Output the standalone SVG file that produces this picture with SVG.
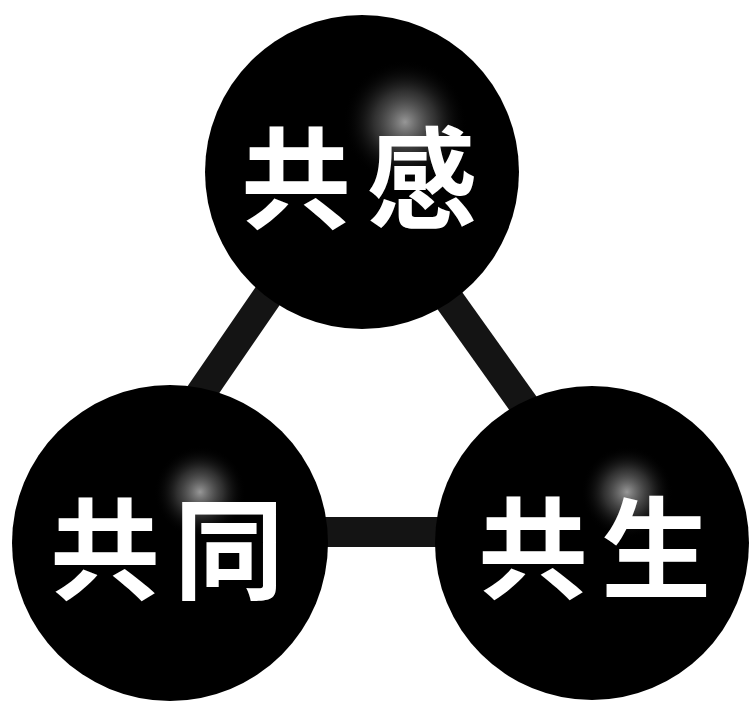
<svg xmlns="http://www.w3.org/2000/svg" width="750" height="705" viewBox="0 0 750 705">
  <defs>
    <radialGradient id="hl" cx="0.5" cy="0.5" r="0.5">
      <stop offset="0" stop-color="#a8a8a8" stop-opacity="0.9"/>
      <stop offset="0.5" stop-color="#606060" stop-opacity="0.5"/>
      <stop offset="1" stop-color="#000000" stop-opacity="0"/>
    </radialGradient>
  </defs>
  <style>
    .ball { fill: #000000; }
    .conn { stroke: #141414; stroke-width: 30; stroke-linecap: butt; fill: none; }
    .lbl { fill: #ffffff; font-family: "Noto Sans CJK JP", "Noto Sans CJK SC", sans-serif; font-weight: 700; font-size: 110px; text-anchor: middle; dominant-baseline: central; }
  </style>
  <rect x="0" y="0" width="750" height="705" fill="#ffffff"/>
  <g id="connectors">
    <line class="conn" x1="151" y1="466" x2="322" y2="217"/>
    <line class="conn" x1="403" y1="235" x2="574" y2="475"/>
    <line class="conn" x1="250" y1="532" x2="510" y2="532"/>
  </g>
  <g id="node-kyokan">
    <circle class="ball" cx="362" cy="172" r="157"/>
    <circle cx="405" cy="122" r="62" fill="url(#hl)"/>
    <text class="lbl" x="296" y="172">共</text>
    <text class="lbl" x="422" y="172">感</text>
  </g>
  <g id="node-kyodo">
    <circle class="ball" cx="170" cy="543" r="158"/>
    <circle cx="200" cy="492" r="46" fill="url(#hl)"/>
    <text class="lbl" x="105" y="543">共</text>
    <text class="lbl" x="229" y="543">同</text>
  </g>
  <g id="node-kyosei">
    <circle class="ball" cx="592" cy="543" r="157"/>
    <circle cx="627" cy="492" r="46" fill="url(#hl)"/>
    <text class="lbl" x="533" y="542">共</text>
    <text class="lbl" x="656" y="542">生</text>
  </g>
</svg>
